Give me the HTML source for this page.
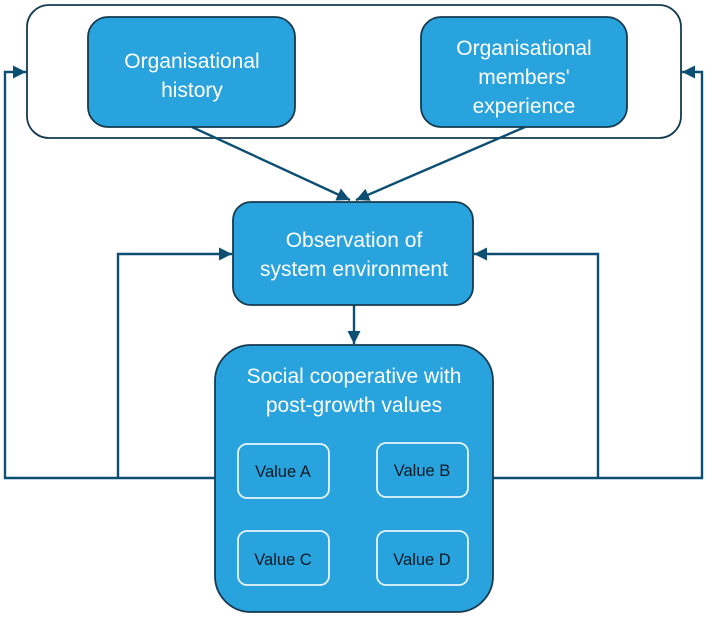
<!DOCTYPE html>
<html><head><meta charset="utf-8"><style>
html,body{margin:0;padding:0;background:#fff;width:708px;height:617px;overflow:hidden}
svg{display:block}
text{font-family:"Liberation Sans",Arial,sans-serif}
</style></head><body>
<svg width="708" height="617" viewBox="0 0 708 617" xmlns="http://www.w3.org/2000/svg">
<defs>
<marker id="a" viewBox="0 0 10 10" refX="10" refY="5" markerWidth="5.5" markerHeight="5.5" markerUnits="strokeWidth" orient="auto">
<path d="M0,0 L10,5 L0,10 z" fill="#0d4f73"/>
</marker>
</defs>
<g fill="none" stroke="#0d4f73" stroke-width="2.4">
<rect x="27" y="5" width="654" height="133" rx="22" stroke="#163a4f" stroke-width="1.8" fill="#fff"/>
<polyline points="215,478 5,478 5,72 26,72" marker-end="url(#a)"/>
<polyline points="118,478 118,254 232,254" marker-end="url(#a)"/>
<polyline points="493,478 702,478 702,72 682,72" marker-end="url(#a)"/>
<polyline points="598,478 598,254 474,254" marker-end="url(#a)"/>
<line x1="192" y1="127" x2="350" y2="200" marker-end="url(#a)"/>
<line x1="525" y1="127" x2="356" y2="200" marker-end="url(#a)"/>
<line x1="354" y1="305" x2="354" y2="344" marker-end="url(#a)"/>
</g>
<g stroke="#163a4f" stroke-width="1.8" fill="#29a3de">
<rect x="88" y="17" width="207" height="110" rx="20"/>
<rect x="421" y="17" width="206" height="110" rx="20"/>
<rect x="233" y="202" width="240" height="103" rx="18"/>
<rect x="215" y="345" width="278" height="267" rx="36"/>
</g>
<g stroke="#e8f5fc" stroke-width="1.8" fill="none">
<rect x="238" y="444" width="91" height="54" rx="9"/>
<rect x="377" y="443" width="91" height="54" rx="9"/>
<rect x="238" y="531" width="91" height="54" rx="9"/>
<rect x="377" y="531" width="91" height="54" rx="9"/>
</g>
<g fill="#fff" font-size="21" text-anchor="middle">
<text x="192" y="68">Organisational</text>
<text x="192" y="97">history</text>
<text x="524" y="55">Organisational</text>
<text x="524" y="84">members'</text>
<text x="524" y="113">experience</text>
<text x="354" y="247">Observation of</text>
<text x="354" y="276">system environment</text>
<text x="354" y="383">Social cooperative with</text>
<text x="354" y="412">post-growth values</text>
</g>
<g fill="#0a1a24" font-size="16.5" text-anchor="middle">
<text x="283" y="477">Value A</text>
<text x="422" y="476">Value B</text>
<text x="283" y="565">Value C</text>
<text x="422" y="565">Value D</text>
</g>
</svg>
</body></html>
